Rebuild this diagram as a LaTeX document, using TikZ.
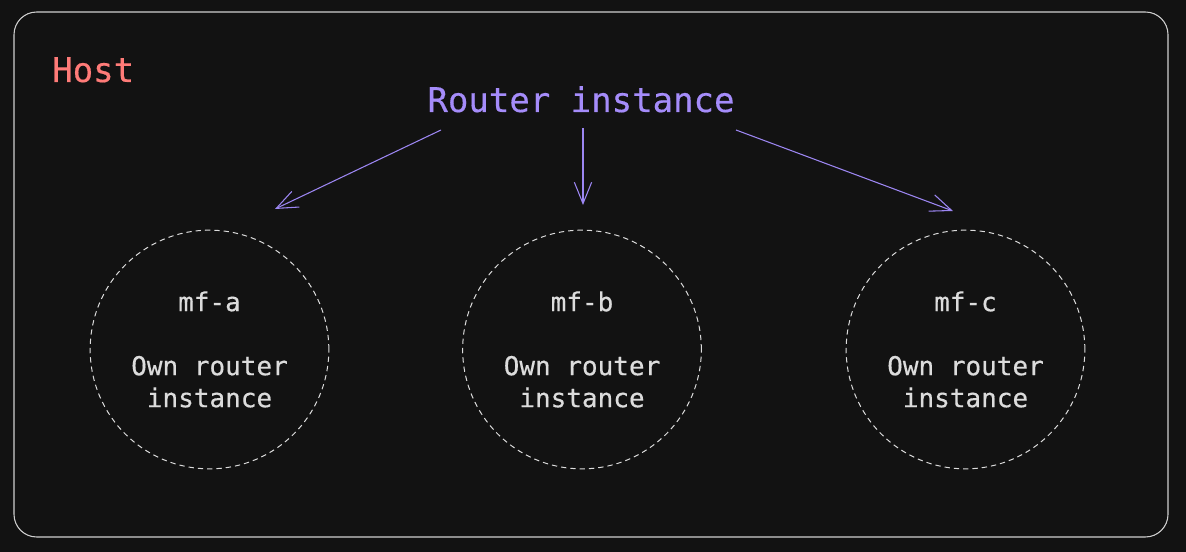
\documentclass[tikz,border=0pt]{standalone}
\usepackage{fontspec}
\setmainfont{DejaVu Sans Mono}[UprightFeatures={FakeBold=0.4}]
\usetikzlibrary{arrows.meta}
\definecolor{bg}{HTML}{121212}
\definecolor{frame}{HTML}{CFCFCF}
\definecolor{hostred}{HTML}{FF7B78}
\definecolor{violet}{HTML}{A58CFA}
\definecolor{arrowviolet}{HTML}{9C86F2}
\definecolor{mftext}{HTML}{DCDCDC}
\begin{document}
\begin{tikzpicture}[x=0.75pt, y=-0.75pt, title/.style={font=\fontsize{25.5}{30}\selectfont, inner sep=0, anchor=base}, mf/.style={draw=mftext, circle, dash pattern=on 4pt off 3pt, line width=0.75pt, minimum size=179pt, inner sep=0, align=center, text=mftext, font=\fontsize{19.5}{24}\selectfont}, call/.style={draw=arrowviolet, line width=0.8pt, -{Straight Barb[length=16pt, width=13pt, line width=0.8pt]}}]
	\fill[bg] (0,0) rectangle (1186,552);
	\useasboundingbox (0,0) rectangle (1186,552);
	\draw[frame, line width=0.8pt, rounded corners=17pt] (14,12) rectangle (1168,537);
	\node[title, hostred, anchor=base west] (host) at (52,82) {Host};
	\node[title, violet] (router) at (581,112) {Router instance};
	\node[mf] (A) at (209.5,349.5) {mf-a\\[24pt]Own router\\instance};
	\node[mf] (B) at (582,349.5) {mf-b\\[24pt]Own router\\instance};
	\node[mf] (C) at (965.5,349.5) {mf-c\\[24pt]Own router\\instance};
	\coordinate (RA) at (441,130);
	\coordinate (RB) at (583,128);
	\coordinate (RC) at (736,130);
	\coordinate (TA) at (275,209);
	\coordinate (TB) at (583,205);
	\coordinate (TC) at (953,211);
	\draw[call] (RA) -- (TA);
	\draw[call] (RB) -- (TB);
	\draw[call] (RC) -- (TC);
\end{tikzpicture}
\end{document}
